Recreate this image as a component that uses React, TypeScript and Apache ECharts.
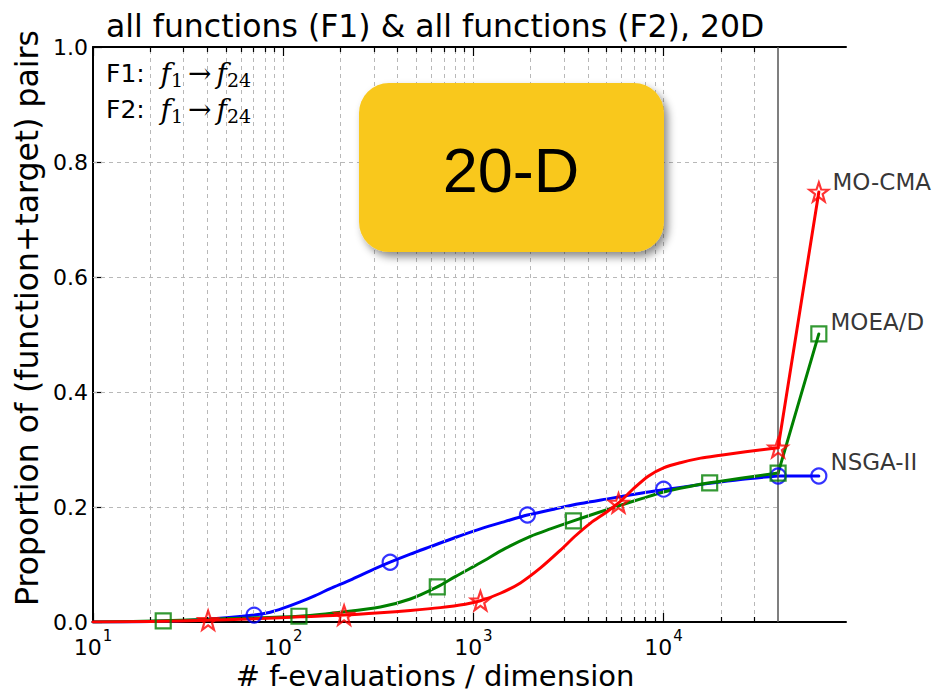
import React, { useEffect, useRef } from "react";
import * as echarts from "echarts";

const TITLE = "all functions (F1) & all functions (F2), 20D";
const X_NAME = "# f-evaluations / dimension";
const Y_NAME = "Proportion of (function+target) pairs";
const BADGE = "20-D";

// axis ranges
const xMin = 10;
const xMax = 91000;
const budget = 40000;
const yTickValues = [0, 0.2, 0.4, 0.6, 0.8, 1.0];
const decades = [10, 100, 1000, 10000];
const mantissas = [2, 3, 4, 5, 6, 7, 8, 9];

// NSGA-II
const nsgaLineX = [10, 20, 36.6, 70.3, 85.5, 100, 122.8, 147.3, 176.6, 225, 287, 365, 466, 594, 803, 1089, 1472, 1923, 2705, 3656, 5260, 7570, 10000, 15670, 25410, 40000];
const nsgaLineY = [0, 0.001, 0.004, 0.012, 0.017, 0.024, 0.035, 0.046, 0.058, 0.073, 0.089, 0.104, 0.118, 0.131, 0.147, 0.162, 0.175, 0.186, 0.197, 0.206, 0.215, 0.224, 0.23, 0.239, 0.248, 0.254];
const nsgaMarkX = [70.3, 365, 1923, 10000, 40000, 65500];
const nsgaMarkY = [0.012, 0.104, 0.186, 0.231, 0.254, 0.254];

// MOEA/D
const moeadLineX = [10, 23.4, 52.6, 121, 199.5, 324, 466, 646, 803, 1089, 1472, 1995, 2541, 3357, 4500, 5940, 7740, 10000, 13870, 17470, 25410, 40000];
const moeadLineY = [0, 0.002, 0.006, 0.01, 0.017, 0.026, 0.04, 0.061, 0.079, 0.103, 0.128, 0.149, 0.162, 0.176, 0.19, 0.203, 0.215, 0.226, 0.236, 0.242, 0.25, 0.259];
const moeadMarkX = [23.4, 121, 646, 3357, 17470, 40000, 65500];
const moeadMarkY = [0.002, 0.01, 0.061, 0.176, 0.242, 0.259, 0.501];

// MO-CMA
const mocmaLineX = [10, 20, 40.3, 75.7, 122.8, 209, 324, 466, 670, 907, 1089, 1387, 1767, 2253, 2871, 3444, 4130, 4955, 5795, 6950, 8340, 10000, 12270, 15670, 19950, 27030, 40000];
const mocmaLineY = [0, 0.001, 0.003, 0.006, 0.009, 0.012, 0.016, 0.02, 0.025, 0.031, 0.037, 0.05, 0.068, 0.094, 0.125, 0.15, 0.172, 0.19, 0.207, 0.232, 0.254, 0.268, 0.277, 0.285, 0.29, 0.296, 0.303];
const mocmaMarkX = [40.3, 209, 1089, 5795, 40000, 65500];
const mocmaMarkY = [0.003, 0.012, 0.037, 0.207, 0.303, 0.748];

const SANS = "DejaVu Sans";
const SERIF = "DejaVu Serif";
const STAR =
  "path://M0,-10L2.35,-3.24L9.51,-3.09L3.8,1.24L5.88,8.09L0,4L-5.88,8.09L-3.8,1.24L-9.51,-3.09L-2.35,-3.24Z";

const pairs = (xs: number[], ys: number[]) => xs.map((x, i) => [x, ys[i]]);

// smooth part of a runtime distribution, drawn up to the budget
function curve(name: string, xs: number[], ys: number[], color: string, z: number) {
  return {
    type: "line",
    name,
    data: pairs(xs, ys),
    smooth: 0.3,
    symbol: "none",
    showSymbol: false,
    silent: true,
    z,
    lineStyle: { color, width: 3, cap: "round", join: "round" },
  };
}

// straight jump from the budget to the final value
function tail(name: string, xs: number[], ys: number[], color: string, z: number) {
  const n = xs.length;
  return {
    type: "line",
    name: name + " tail",
    data: pairs(xs.slice(n - 2), ys.slice(n - 2)),
    symbol: "none",
    showSymbol: false,
    silent: true,
    z,
    lineStyle: { color, width: 3, cap: "round" },
  };
}

function markers(
  name: string,
  xs: number[],
  ys: number[],
  color: string,
  symbol: string,
  size: number,
  dy: number
) {
  return {
    type: "scatter",
    name: name + " markers",
    symbol,
    symbolSize: size,
    silent: true,
    z: 10,
    itemStyle: { color: "rgba(0,0,0,0)", borderColor: color, borderWidth: 2.2 },
    data: xs.map((x, i) =>
      i === xs.length - 1
        ? {
            value: [x, ys[i]],
            label: {
              show: true,
              formatter: name,
              position: "right",
              distance: 3,
              offset: [0, dy],
              color: "#000",
              fontSize: 23,
              fontFamily: SANS,
            },
          }
        : [x, ys[i]]
    ),
  };
}

function buildOption() {
  const minorTicks = decades
    .flatMap((d) => mantissas.map((m) => m * d))
    .filter((v) => v < budget);
  const majorTicks = decades;
  const gridXs = [...minorTicks, ...majorTicks.filter((v) => v > xMin)];
  const majorLen = 0.0157;
  const minorLen = 0.0087;

  const dashed = { type: [4, 4] as any, color: "#b8b8b8", width: 1 };

  const gridLines: any[] = [
    ...gridXs.map((v) => ({ xAxis: v, lineStyle: dashed })),
    ...yTickValues
      .filter((v) => v > 0 && v < 1)
      .map((v) => [
        { coord: [xMin, v], lineStyle: dashed },
        { coord: [budget, v] },
      ]),
    { xAxis: budget, lineStyle: { type: "solid", color: "#555", width: 1.5 } },
  ];

  const tickStyle = { type: "solid", color: "#000", width: 1.2 };
  const tickLines: any[] = [];
  for (const v of majorTicks) {
    tickLines.push([{ coord: [v, 0], lineStyle: tickStyle }, { coord: [v, majorLen] }]);
    tickLines.push([{ coord: [v, 1], lineStyle: tickStyle }, { coord: [v, 1 - majorLen] }]);
  }
  for (const v of minorTicks) {
    tickLines.push([{ coord: [v, 0], lineStyle: tickStyle }, { coord: [v, minorLen] }]);
    tickLines.push([{ coord: [v, 1], lineStyle: tickStyle }, { coord: [v, 1 - minorLen] }]);
  }

  const markLineBase = {
    silent: true,
    symbol: ["none", "none"],
    label: { show: false },
    emphasis: { disabled: true },
    animation: false,
  };

  const mathRich = {
    a: { fontFamily: SANS, fontSize: 25, color: "#000", lineHeight: 40, verticalAlign: "middle" },
    m: { fontFamily: SERIF, fontStyle: "italic", fontSize: 28, color: "#000", lineHeight: 40, verticalAlign: "middle" },
    r: { fontFamily: SERIF, fontSize: 28, color: "#000", lineHeight: 40, verticalAlign: "middle", padding: [0, 5, 0, 5] },
    s: { fontFamily: SERIF, fontSize: 19, color: "#000", lineHeight: 40, verticalAlign: "bottom", padding: [0, 0, 4, 0] },
  };
  const mathLine = (label: string) => `{a|${label}:  }{m|f}{s|1}{r|→}{m|f}{s|24}`;

  return {
    animation: false,
    textStyle: { fontFamily: SANS },
    grid: { left: 93, right: 86, top: 47, bottom: 71, containLabel: false },
    xAxis: [
      {
        type: "log",
        logBase: 10,
        min: xMin,
        max: xMax,
        position: "bottom",
        axisLine: { show: true, lineStyle: { color: "#000", width: 2 } },
        axisTick: { show: false },
        minorTick: { show: false },
        splitLine: { show: false },
        axisLabel: {
          showMaxLabel: false,
          margin: 6,
          formatter: (v: number) => {
            const e = Math.round(Math.log10(v));
            if (Math.abs(Math.pow(10, e) - v) > 1e-6 * v) return "";
            return `{b|10}{s|${e}}`;
          },
          rich: {
            b: { fontSize: 22, fontFamily: SANS, color: "#000", lineHeight: 30, verticalAlign: "bottom" },
            s: { fontSize: 15, fontFamily: SANS, color: "#000", lineHeight: 30, verticalAlign: "top", padding: [0, 0, 0, 1] },
          },
        },
      },
      {
        type: "log",
        logBase: 10,
        min: xMin,
        max: xMax,
        position: "top",
        axisLine: { show: true, lineStyle: { color: "#000", width: 2 } },
        axisTick: { show: false },
        axisLabel: { show: false },
        splitLine: { show: false },
      },
    ],
    yAxis: {
      type: "value",
      min: 0,
      max: 1,
      interval: 0.2,
      axisLine: { show: true, lineStyle: { color: "#000", width: 2 } },
      axisTick: { show: true, inside: true, length: 9, lineStyle: { color: "#000", width: 1.2 } },
      splitLine: { show: false },
      axisLabel: {
        color: "#000",
        fontSize: 22,
        fontFamily: SANS,
        margin: 5,
        formatter: (v: number) => v.toFixed(1),
      },
    },
    series: [
      {
        type: "line",
        name: "grid",
        data: [],
        z: 1,
        silent: true,
        markLine: { ...markLineBase, data: gridLines },
      },
      {
        type: "line",
        name: "ticks",
        data: [],
        z: 2,
        silent: true,
        markLine: { ...markLineBase, data: tickLines },
      },
      curve("NSGA-II", nsgaLineX, nsgaLineY, "#0000ff", 3),
      tail("NSGA-II", nsgaMarkX, nsgaMarkY, "#0000ff", 3),
      curve("MOEA/D", moeadLineX, moeadLineY, "#008000", 4),
      tail("MOEA/D", moeadMarkX, moeadMarkY, "#008000", 4),
      curve("MO-CMA", mocmaLineX, mocmaLineY, "#ff0000", 5),
      tail("MO-CMA", mocmaMarkX, mocmaMarkY, "#ff0000", 5),
      markers("NSGA-II", nsgaMarkX, nsgaMarkY, "#0000ff", "circle", 15, -14),
      markers("MOEA/D", moeadMarkX, moeadMarkY, "#008000", "rect", 15, -12),
      markers("MO-CMA", mocmaMarkX, mocmaMarkY, "#ff0000", STAR, 19, -10),
    ],
    graphic: [
      {
        type: "text",
        x: 106,
        y: 26,
        style: { text: TITLE, fontFamily: SANS, fontSize: 31.5, fill: "#000", align: "left", verticalAlign: "middle" },
      },
      {
        type: "text",
        x: 435,
        y: 676,
        style: { text: X_NAME, fontFamily: SANS, fontSize: 29, fill: "#000", align: "center", verticalAlign: "middle" },
      },
      {
        type: "text",
        x: 27,
        y: 318,
        rotation: Math.PI / 2,
        style: { text: Y_NAME, fontFamily: SANS, fontSize: 31.5, fill: "#000", align: "center", verticalAlign: "middle" },
      },
      {
        type: "text",
        x: 106,
        y: 73,
        z: 20,
        style: { text: mathLine("F1"), rich: mathRich, align: "left", verticalAlign: "middle" },
      },
      {
        type: "text",
        x: 106,
        y: 109,
        z: 20,
        style: { text: mathLine("F2"), rich: mathRich, align: "left", verticalAlign: "middle" },
      },
      {
        type: "rect",
        z: 20,
        shape: { x: 359, y: 83, width: 305, height: 169, r: 30 },
        style: {
          fill: "#F9C81F",
          shadowBlur: 8,
          shadowColor: "rgba(0,0,0,0.45)",
          shadowOffsetX: 4,
          shadowOffsetY: 5,
        },
      },
      {
        type: "text",
        z: 21,
        x: 511,
        y: 170,
        style: {
          text: BADGE,
          fontFamily: "Liberation Sans",
          fontSize: 63,
          fill: "#000",
          align: "center",
          verticalAlign: "middle",
        },
      },
    ],
  };
}

export default function App() {
  const ref = useRef<HTMLDivElement>(null);
  useEffect(() => {
    if (!ref.current) return;
    const chart = echarts.init(ref.current, undefined, { renderer: "svg" });
    chart.setOption(buildOption() as any);
    return () => chart.dispose();
  }, []);
  return (
    <div
      ref={ref}
      style={{ position: "fixed", left: 0, top: 0, width: 932, height: 693, background: "#fff" }}
    />
  );
}
